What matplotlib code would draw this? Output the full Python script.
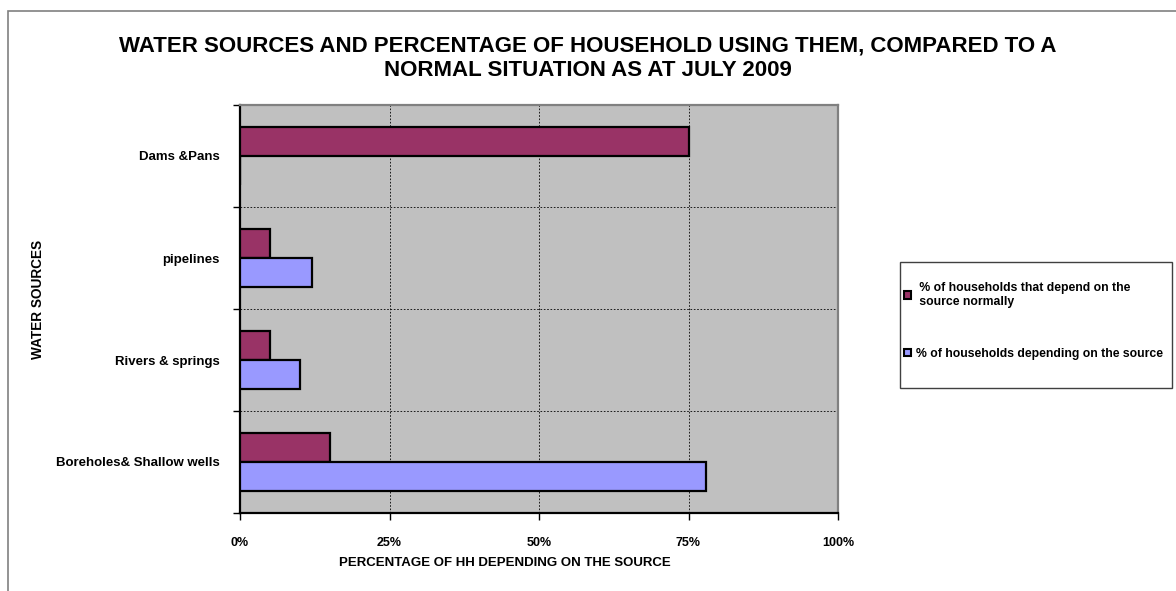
import numpy as np
import matplotlib.pyplot as plt
from matplotlib.patches import Patch, Rectangle

plt.rcParams['font.family'] = ['Liberation Sans', 'DejaVu Sans']
plt.rcParams['font.weight'] = 'bold'

# data
categories = ['Boreholes& Shallow wells', 'Rivers & springs', 'pipelines', 'Dams &Pans']
normally = [15, 5, 5, 75]
current = [78, 10, 12, 0]
xticks = [0, 25, 50, 75, 100]
xtick_labels = ['0%', '25%', '50%', '75%', '100%']
label_normal = ' % of households that depend on the\n source normally'
label_current = '% of households depending on the source'

W, H = 1176, 591
fig = plt.figure(figsize=(W / 100, H / 100), dpi=100)
fig.patch.set_facecolor('white')

# outer chart border (clipped on right and bottom)
fig.patches.append(Rectangle((8 / W, -0.05), 1.2, 1 - 11 / H + 0.05, transform=fig.transFigure,
                             fill=False, edgecolor='#808080', linewidth=1.2))

# plot area in pixels
x0, x1, y0, y1 = 240, 838, 105, 513
ax = fig.add_axes([x0 / W, 1 - y1 / H, (x1 - x0) / W, (y1 - y0) / H])
ax.set_facecolor('#C0C0C0')

y = np.arange(len(categories))
h = 1 / 3.5
ax.barh(y + h / 2, normally, height=h, color='#993366', edgecolor='black', linewidth=1.6, zorder=3)
ax.barh(y - h / 2, current, height=h, color='#9999FF', edgecolor='black', linewidth=1.6, zorder=3)

ax.set_xlim(0, 100)
ax.set_ylim(-0.5, len(categories) - 0.5)

ax.set_xticks(xticks)
ax.set_xticklabels(xtick_labels, fontsize=9, fontweight='bold')
ax.tick_params(axis='x', length=5, width=1, pad=12)

ax.set_yticks(y)
ax.set_yticklabels(categories, fontsize=9.5, fontweight='bold')
ax.tick_params(axis='y', which='major', length=0, pad=14.4)
ax.set_yticks(np.arange(-0.5, len(categories)), minor=True)
ax.tick_params(axis='y', which='minor', length=5, width=1)

for v in xticks[1:-1]:
    ax.axvline(v, color='black', linestyle=(0, (2, 2)), linewidth=0.6, zorder=1)
for b in np.arange(0.5, len(categories) - 1):
    ax.axhline(b, color='black', linestyle=(0, (2, 2)), linewidth=0.6, zorder=1)

for s in ['left', 'bottom']:
    ax.spines[s].set_color('black')
    ax.spines[s].set_linewidth(1.6)
for s in ['top', 'right']:
    ax.spines[s].set_color('#808080')
    ax.spines[s].set_linewidth(1.6)

fig.text(505 / W, 1 - 563 / H, 'PERCENTAGE OF HH DEPENDING ON THE SOURCE', fontsize=9.5,
         fontweight='bold', ha='center', va='center')
fig.text(38 / W, 1 - 299 / H, 'WATER SOURCES', rotation=90, fontsize=9.8, fontweight='bold',
         ha='center', va='center')

fig.text(588 / W, 1 - 46 / H, 'WATER SOURCES AND PERCENTAGE OF HOUSEHOLD USING THEM, COMPARED TO A',
         fontsize=16, fontweight='bold', ha='center', va='center')
fig.text(588 / W, 1 - 71 / H, 'NORMAL SITUATION AS AT JULY 2009',
         fontsize=16, fontweight='bold', ha='center', va='center')

# legend box
fig.patches.append(Rectangle((900 / W, 1 - 388 / H), 272 / W, 126 / H, transform=fig.transFigure,
                             fill=False, edgecolor='#404040', linewidth=1))
handles = [Patch(facecolor='#993366', edgecolor='black', linewidth=1.5),
           Patch(facecolor='#9999FF', edgecolor='black', linewidth=1.5)]
fig.legend(handles, [label_normal, label_current], loc='upper left',
           bbox_to_anchor=(904 / W, 1 - 282 / H), frameon=False,
           prop={'size': 8.8, 'weight': 'bold'}, handlelength=0.55, handleheight=0.55,
           handletextpad=0.4, labelspacing=3.3, borderpad=0, borderaxespad=0)

fig.savefig('out.png', dpi=100)
